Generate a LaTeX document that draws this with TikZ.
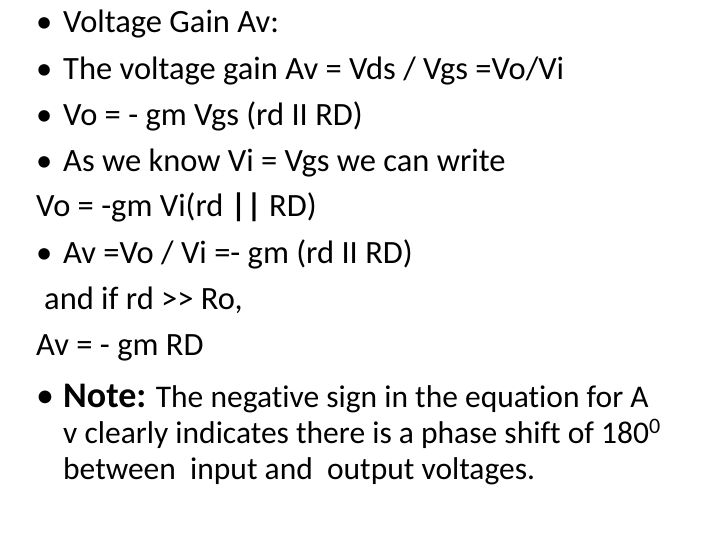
\documentclass[tikz,border=0pt]{standalone}
\usepackage{fontspec}
\setmainfont[Ligatures={NoCommon}]{Carlito}
\begin{document}
\begin{tikzpicture}[x=1pt,y=-1pt,
  ln/.style={anchor=base west,inner sep=0pt,font=\fontsize{32.5}{34}\selectfont},
  nl/.style={anchor=base west,inner sep=0pt,font=\fontsize{31.5}{33}\selectfont}]
\useasboundingbox (0,0) rectangle (720,540);
\foreach \y/\n in {33/a,80/b,126/c,172/d,263/f}{\node[ln] (b\n) at (36,\y) {•};}
\node[ln] (t1) at (63,33) {Voltage Gain Av:};
\node[ln] (t2) at (63,80) {The voltage gain Av = Vds / Vgs =Vo/Vi};
\node[ln] (t3) at (63,126) {Vo = - gm Vgs (rd II RD)};
\node[ln] (t4) at (63,172) {As we know Vi = Vgs we can write};
\node[ln] (t5) at (36,217) {Vo = -gm Vi(rd {\bfseries||} RD)};
\node[ln] (t6) at (63,263) {Av =Vo / Vi =- gm (rd II RD)};
\node[ln] (t7) at (44,309) {and if rd >{}> Ro,};
\node[ln] (t8) at (36,355) {Av = - gm RD};
\node[anchor=base west,inner sep=0pt,font=\fontsize{36}{38}\selectfont] (bn) at (36,407) {•};
\node[nl] (t9) at (63,407) {{\fontsize{36}{38}\selectfont\bfseries Note:} The negative sign in the equation for A};
\node[nl] (t10) at (63,443) {v clearly indicates there is a phase shift of 180\textsuperscript{0}};
\node[nl] (t11) at (63,479) {between\ \ input and\ \ output voltages.};
\end{tikzpicture}
\end{document}
